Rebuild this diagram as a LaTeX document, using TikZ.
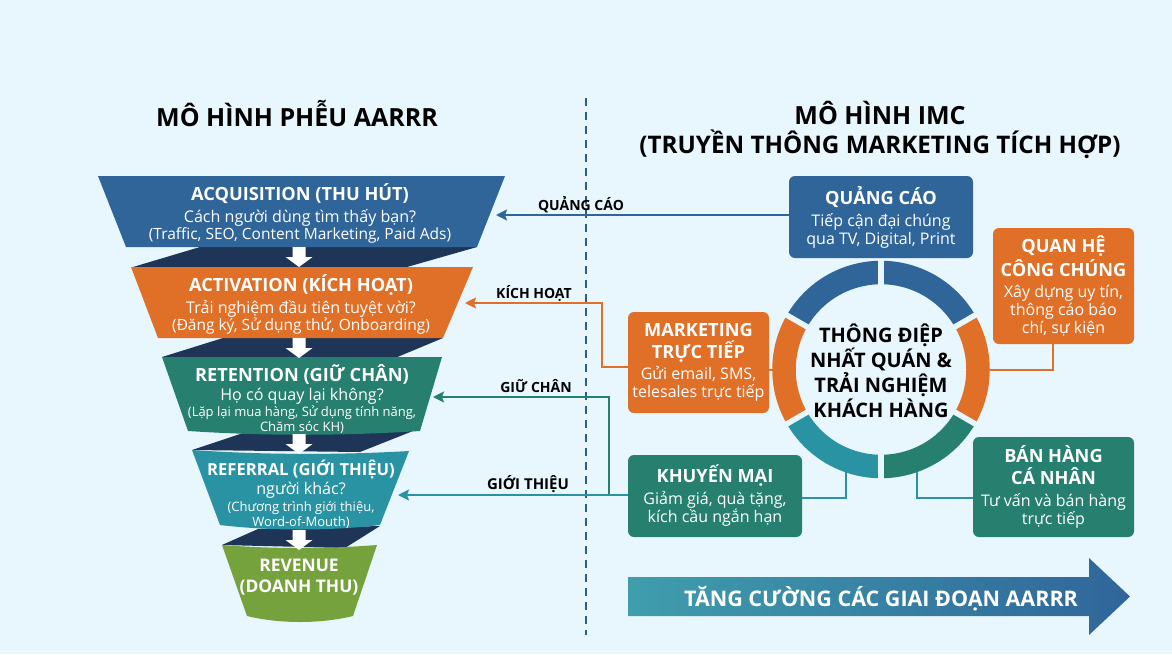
\documentclass[tikz,border=0pt]{standalone}
\usepackage{fontspec}
\setmainfont{Open Sans}
\usetikzlibrary{arrows.meta,calc}
\definecolor{bgc}{HTML}{E8F6FD}
\definecolor{cblue}{HTML}{30659A}
\definecolor{corange}{HTML}{E06F27}
\definecolor{cgreen}{HTML}{267F6F}
\definecolor{cteal}{HTML}{2A93A3}
\definecolor{colive}{HTML}{76A23E}
\definecolor{cdark}{HTML}{1E3557}
\definecolor{cdash}{HTML}{2F5F80}
\newcommand\hd[1]{{\fontsize{18.2}{20}\selectfont\bfseries #1}}
\newcommand\sm[1]{{\fontsize{13}{15.5}\selectfont #1}}
\newcommand\qs[1]{{\fontsize{16.1}{17.5}\selectfont #1}}
\tikzset{
 stagetext/.style={text=white,align=center,inner sep=0pt,font=\fontsize{15.5}{17.5}\selectfont},
 boxn/.style={rounded corners=6pt,text=white,align=center,inner sep=0pt,font=\fontsize{16}{18}\selectfont},
 band/.style={fill=cdark},
 wharrow/.style={fill=white},
 conn/.style={line width=2pt},
 tipped/.style={conn,-{Stealth[length=11pt,width=11pt,inset=2pt]}},
 flabel/.style={font=\fontsize{14}{16}\selectfont\bfseries,text=black,inner sep=0pt},
 titlet/.style={font=\fontsize{25}{29}\selectfont\bfseries,text=black,inner sep=0pt,align=center},
 segm/.style={line width=23.5pt},
 gapl/.style={draw=bgc,line width=5.5pt}
}
\newcommand\whitearrow[2]{\fill[wharrow] (#1-6.5,#2) -- (#1+6.5,#2) -- (#1+6.5,#2+10) -- (#1+13.5,#2+10) -- (#1,#2+20) -- (#1-13.5,#2+10) -- (#1-6.5,#2+10) -- cycle;}
\begin{document}
\begin{tikzpicture}[x=1pt,y=-1pt]
\useasboundingbox (0,0) rectangle (1172,654);
\fill[bgc] (0,0) rectangle (1172,654);
% titles
\node[titlet] (t1) at (297,113.5) {MÔ HÌNH PHỄU AARRR};
\node[titlet] (t2) at (880,129.5) {MÔ HÌNH IMC\\{\fontsize{24.2}{29}\selectfont (TRUYỀN THÔNG MARKETING TÍCH HỢP)}};
% divider
\coordinate (dtop) at (586,98);
\coordinate (dbot) at (586,635);
\draw[draw=cdash,line width=1.5pt,dash pattern=on 8pt off 6pt] (dtop) -- (dbot);
% bands
\fill[band] (200,247) -- (477,247) -- (407,267) -- (133,267) -- cycle;
\fill[band] (223,338) -- (443,338) -- (395,358) -- (162,357) -- cycle;
\fill[band] (243,433) -- (413,431) -- (360,452) -- (192,450) -- cycle;
\fill[band] (258,529) -- (380,526) -- (345,548) -- (222,545) -- cycle;
% stages
\fill[cblue] (98,176) -- (505,176) -- (477,247) -- (126,247) -- cycle;
\fill[corange] (131,267) -- (473,267) -- (443,338) -- (158,338) -- cycle;
\fill[cgreen] (162,357) -- (442,357) -- (420,431) .. controls (340,436) and (265,436) .. (188,431) -- cycle;
\fill[cteal] (192,450) .. controls (265,455) and (340,455) .. (409,451) -- (380,525) .. controls (330,531) and (270,531) .. (220,525) -- cycle;
\fill[colive] (222,545) .. controls (275,549) and (325,549) .. (377,545) -- (353,616) .. controls (320,624) and (280,624) .. (247,616) -- cycle;
% white arrows
\whitearrow{299}{247}
\whitearrow{299}{338}
\whitearrow{299}{434}
\whitearrow{299}{530}
% stage texts
\node[stagetext] (s1) at (300,213.5) {\hd{ACQUISITION (THU HÚT)}\\[4pt]\qs{Cách người dùng tìm thấy bạn?}\\(Traffic, SEO, Content Marketing, Paid Ads)};
\node[stagetext] (s2) at (301,304.5) {\hd{ACTIVATION (KÍCH HOẠT)}\\[4pt]\qs{Trải nghiệm đầu tiên tuyệt vời?}\\(Đăng ký, Sử dụng thử, Onboarding)};
\node[stagetext] (s3) at (302,399) {\hd{RETENTION (GIỮ CHÂN)}\\[1.5pt]\qs{Họ có quay lại không?}\\[-1.5pt]\sm{(Lặp lại mua hàng, Sử dụng tính năng,}\\[-2pt]\sm{Chăm sóc KH)}};
\node[stagetext] (s4) at (301,494) {{\fontsize{16.6}{20}\selectfont\bfseries REFERRAL (GIỚI THIỆU)}\\[1.5pt]\qs{người khác?}\\[-0.5pt]\sm{(Chương trình giới thiệu,}\\[-2.5pt]\sm{Word-of-Mouth)}};
\node[stagetext,font=\fontsize{17.4}{20.5}\selectfont\bfseries] (s5) at (299,577) {REVENUE\\(DOANH THU)};
% ring
\coordinate (rc) at (881,369.5);
\node[circle,minimum size=217pt,inner sep=0pt,outer sep=0pt] (ring) at (rc) {};
\draw[segm,cblue] (rc) ++(-150:97) arc[start angle=-150,end angle=-30,radius=97];
\draw[segm,corange] (rc) ++(-30:97) arc[start angle=-30,end angle=30,radius=97];
\draw[segm,cgreen] (rc) ++(30:97) arc[start angle=30,end angle=90,radius=97];
\draw[segm,cteal] (rc) ++(90:97) arc[start angle=90,end angle=150,radius=97];
\draw[segm,corange] (rc) ++(150:97) arc[start angle=150,end angle=210,radius=97];
\foreach \a in {30,90,150,210,270,330} \draw[gapl] ($(rc)+(\a:80)$) -- ($(rc)+(\a:111)$);
\node[inner sep=0pt,align=center,text=black,font=\fontsize{20}{25}\selectfont\bfseries] (core) at (881,371) {THÔNG ĐIỆP\\NHẤT QUÁN \&\\TRẢI NGHIỆM\\KHÁCH HÀNG};
% boxes
\node[boxn,fill=cblue,minimum width=184pt,minimum height=82pt] (qc) at (881,217) {\hd{QUẢNG CÁO}\\[4pt]Tiếp cận đại chúng\\qua TV, Digital, Print};
\node[boxn,fill=corange,minimum width=141pt,minimum height=116pt] (qh) at (1063.5,286) {\hd{QUAN HỆ}\\[3pt]\hd{CÔNG CHÚNG}\\[3pt]Xây dựng uy tín,\\thông cáo báo\\chí, sự kiện};
\node[boxn,fill=corange,minimum width=141pt,minimum height=101pt] (mk) at (698.5,362.5) {\hd{MARKETING}\\[4pt]\hd{TRỰC TIẾP}\\[3pt]Gửi email, SMS,\\telesales trực tiếp};
\node[boxn,fill=cgreen,minimum width=174pt,minimum height=82pt] (km) at (715,496) {\hd{KHUYẾN MẠI}\\[4pt]Giảm giá, quà tặng,\\kích cầu ngắn hạn};
\node[boxn,fill=cgreen,minimum width=161pt,minimum height=100pt] (bh) at (1053.5,487) {\hd{BÁN HÀNG}\\[4pt]\hd{CÁ NHÂN}\\[4pt]Tư vấn và bán hàng\\trực tiếp};
% connector points
\coordinate (tipA) at (496,215);
\coordinate (tipB) at (465,303);
\coordinate (tipC) at (433,397);
\coordinate (tipD) at (398,495);
\coordinate (jm) at (602,367);
\coordinate (jg) at (609,495);
\coordinate (jk) at (846,498);
\coordinate (rk) at (846,472);
\coordinate (jb) at (917,498);
\coordinate (rb) at (917,472);
\coordinate (jq) at (1053,344);
% connectors
\draw[tipped,draw=cblue] (qc.west |- tipA) -- (tipA);
\draw[tipped,draw=corange] (mk.west |- jm) -- (jm) |- (tipB);
\draw[tipped,draw=cgreen] (jg) |- (tipC);
\draw[tipped,draw=cteal] (km.west |- tipD) -- (tipD);
\draw[conn,corange] (mk.east |- ring.west) -- (ring.west);
\draw[conn,corange] (ring.east) -| (jq);
\draw[conn,cteal] (km.east |- jk) -- (jk) -- (rk);
\draw[conn,cteal] (bh.west |- jb) -- (jb) -- (rb);
% connector labels
\node[flabel] (lA) at (581,205) {QUẢNG CÁO};
\node[flabel] (lB) at (534,293) {KÍCH HOẠT};
\node[flabel] (lC) at (536,386) {GIỮ CHÂN};
\node[flabel,font=\fontsize{15}{16}\selectfont\bfseries] (lD) at (528,484) {GIỚI THIỆU};
% bottom arrow
\shade[left color=cteal!90!white,right color=cblue] (628,577) -- (1089,577) -- (1089,558) -- (1130,596.5) -- (1089,635) -- (1089,616) -- (628,616) -- cycle;
\node[inner sep=0pt,text=white,font=\fontsize{21.5}{24}\selectfont\bfseries] (al) at (881,598.5) {TĂNG CƯỜNG CÁC GIAI ĐOẠN AARRR};
\end{tikzpicture}
\end{document}
